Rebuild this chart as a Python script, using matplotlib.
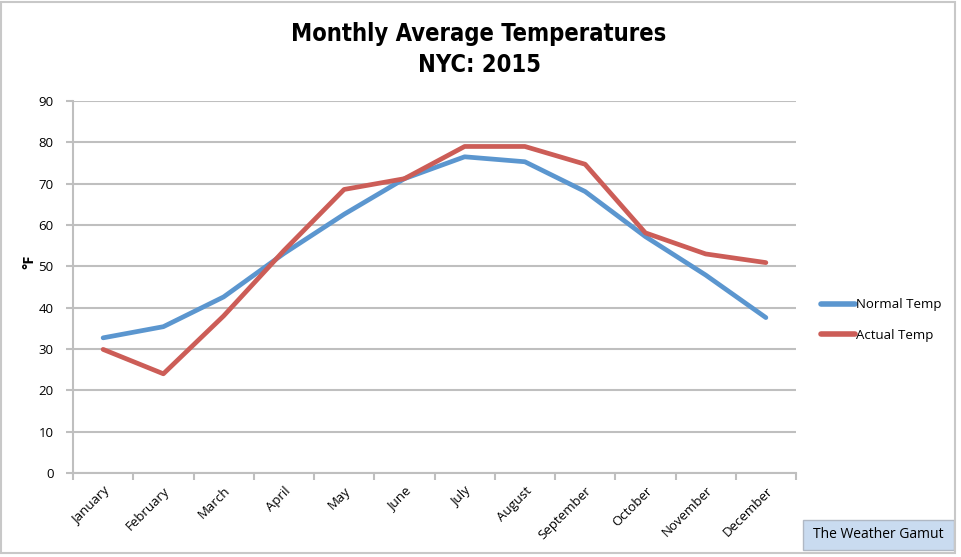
import matplotlib
matplotlib.use("Agg")
import matplotlib.pyplot as plt
import matplotlib.patches as ptch
import numpy as np

months = ["January", "February", "March", "April", "May", "June", "July",
          "August", "September", "October", "November", "December"]
normal_temp = [32.7, 35.4, 42.6, 53.1, 62.6, 71.2, 76.5, 75.3, 68.1, 57.2, 47.9, 37.6]
actual_temp = [29.9, 24.0, 38.0, 53.8, 68.6, 71.2, 79.0, 79.0, 74.7, 58.1, 53.0, 50.9]
y_ticks = [0, 10, 20, 30, 40, 50, 60, 70, 80, 90]

plt.rcParams['font.family'] = ['Open Sans', 'DejaVu Sans']

fig = plt.figure(figsize=(9.61, 5.57), dpi=100)
ax = fig.add_axes([73/961, 1-473/557, (796-73)/961, (473-101)/557])

x = np.arange(len(months))
ax.plot(x, normal_temp, color="#5b96cf", lw=3.4, label="Normal Temp", solid_capstyle="round")
ax.plot(x, actual_temp, color="#cc5d57", lw=3.4, label="Actual Temp", solid_capstyle="round")

ax.set_xlim(-0.5, len(months) - 0.5)
ax.set_ylim(0, 90)
ax.set_yticks(y_ticks)
ax.set_yticklabels([str(v) for v in y_ticks], fontsize=9.5)
ax.set_xticks(x)
ax.set_xticklabels(months, rotation=45, ha="right", va="top", rotation_mode="anchor",
                   fontsize=9.5)
ax.set_xticks(np.arange(-0.5, len(months)), minor=True)
ax.tick_params(axis="x", which="major", length=0, pad=8)
ax.tick_params(axis="x", which="minor", length=5, color="#bfbfbf", width=1.5)
ax.tick_params(axis="y", length=5, color="#bfbfbf", width=1.5, pad=9)

ax.grid(axis="y", color="#bfbfbf", lw=1.5)
ax.set_axisbelow(True)
for s in ["top", "right"]:
    ax.spines[s].set_visible(False)
for s in ["left", "bottom"]:
    ax.spines[s].set_color("#bfbfbf")
    ax.spines[s].set_linewidth(1.5)

ax.set_ylabel("°F", fontsize=10.5, fontweight="bold")
ax.yaxis.set_label_coords(-0.050, 0.567)

title_font = dict(family="DejaVu Sans", fontstretch="condensed", fontweight="bold", fontsize=17)
fig.text(479/961, 1-34/557, "Monthly Average Temperatures", ha="center", va="center", **title_font)
fig.text(479/961, 1-65/557, "NYC: 2015", ha="center", va="center", **title_font)

leg = fig.legend(loc="center left", bbox_to_anchor=(809/961, 1-320/557), frameon=False,
                 handlelength=2.6, handletextpad=0.1, labelspacing=1.3,
                 prop={'size': 9.5})
for h in leg.get_lines():
    h.set_linewidth(4)

# watermark box
fig.patches.append(ptch.Rectangle((803/961, 1-550/557), 151/961, 30/557,
                                  transform=fig.transFigure, facecolor="#c9dbf0",
                                  edgecolor="#b0b8c4", lw=1))
fig.text(878/961, 1-535/557, "The Weather Gamut", ha="center", va="center", fontsize=10)

# chart border
fig.patches.append(ptch.Rectangle((0.5/961, 1-553/557), 954/961, 551/557,
                                  transform=fig.transFigure, fill=False,
                                  edgecolor="#c8c8c8", lw=1.5))

fig.savefig("out.png", dpi=100)
